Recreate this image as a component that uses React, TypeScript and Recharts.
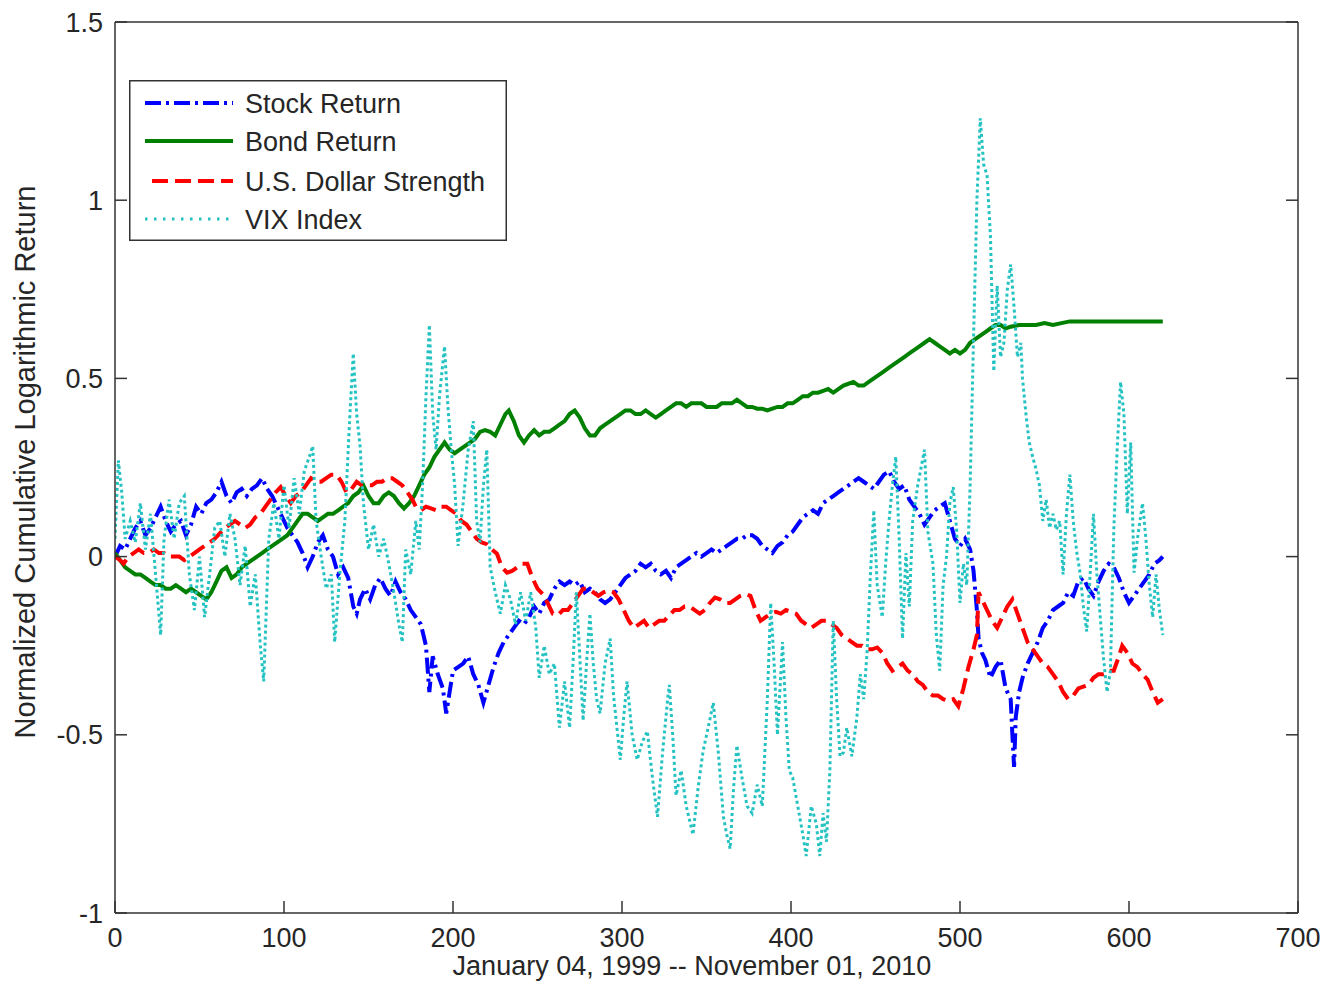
import { LineChart, Line, XAxis, YAxis, Legend } from 'recharts';

const FONT = '"Liberation Sans", Arial, Helvetica, sans-serif';
const TEXT = '#262626';
const AXIS = '#333333';

const xTicks = [0, 100, 200, 300, 400, 500, 600, 700];
const yTicks = [-1, -0.5, 0, 0.5, 1, 1.5];
const xTitle = 'January 04, 1999 -- November 01, 2010';
const yTitle = 'Normalized Cumulative Logarithmic Return';

// [trading week index, value]
const stockReturn: [number, number][] = [
  [0, 0.0], [3, 0.03], [6, 0.02], [9, 0.05], [12, 0.08], [15, 0.1], [18, 0.06], [21, 0.08],
  [24, 0.11], [27, 0.14], [30, 0.1], [33, 0.07], [36, 0.09], [39, 0.1], [42, 0.06], [45, 0.09],
  [48, 0.14], [51, 0.12], [54, 0.15], [57, 0.16], [60, 0.18], [63, 0.21], [66, 0.17], [69, 0.15],
  [72, 0.18], [75, 0.19], [78, 0.17], [81, 0.19], [84, 0.2], [87, 0.22], [90, 0.19], [93, 0.17],
  [96, 0.14], [99, 0.11], [102, 0.08], [105, 0.06], [108, 0.04], [111, 0.01], [114, -0.03], [117, 0.0],
  [120, 0.04], [123, 0.06], [126, 0.02], [129, 0.0], [132, -0.05], [135, -0.03], [138, -0.06], [141, -0.14],
  [143, -0.16], [145, -0.12], [148, -0.09], [151, -0.12], [154, -0.08], [157, -0.06], [160, -0.09], [163, -0.11],
  [166, -0.07], [169, -0.1], [172, -0.12], [175, -0.15], [178, -0.17], [181, -0.19], [184, -0.25], [186, -0.38],
  [188, -0.28], [191, -0.33], [194, -0.37], [196, -0.44], [198, -0.38], [200, -0.32], [203, -0.31], [206, -0.3],
  [209, -0.28], [212, -0.33], [215, -0.36], [218, -0.41], [221, -0.36], [224, -0.31], [227, -0.27], [230, -0.24],
  [233, -0.22], [236, -0.2], [239, -0.18], [242, -0.19], [245, -0.17], [248, -0.14], [251, -0.16], [254, -0.13],
  [257, -0.12], [260, -0.09], [263, -0.07], [266, -0.08], [269, -0.07], [272, -0.08], [275, -0.07], [278, -0.1],
  [281, -0.09], [284, -0.1], [287, -0.12], [290, -0.13], [293, -0.12], [296, -0.1], [299, -0.08], [302, -0.06],
  [305, -0.05], [308, -0.04], [311, -0.02], [314, -0.03], [317, -0.02], [320, -0.04], [323, -0.05], [326, -0.04],
  [329, -0.06], [332, -0.03], [335, -0.02], [338, -0.01], [341, 0.0], [344, 0.01], [347, 0.0], [350, 0.01],
  [353, 0.02], [356, 0.01], [359, 0.02], [362, 0.03], [365, 0.04], [368, 0.05], [371, 0.05], [374, 0.06],
  [377, 0.06], [380, 0.05], [383, 0.03], [386, 0.02], [389, 0.01], [392, 0.03], [395, 0.04], [398, 0.06],
  [401, 0.07], [404, 0.09], [407, 0.11], [410, 0.12], [413, 0.13], [416, 0.12], [419, 0.15], [422, 0.16],
  [425, 0.17], [428, 0.18], [431, 0.19], [434, 0.2], [437, 0.21], [440, 0.22], [443, 0.21], [446, 0.2],
  [449, 0.19], [452, 0.21], [455, 0.23], [458, 0.24], [461, 0.21], [464, 0.19], [467, 0.2], [470, 0.16],
  [473, 0.14], [476, 0.12], [479, 0.09], [482, 0.11], [485, 0.13], [488, 0.14], [491, 0.15], [494, 0.1],
  [497, 0.05], [500, 0.03], [503, 0.05], [506, 0.02], [508, -0.04], [510, -0.15], [511, -0.23], [513, -0.27],
  [515, -0.29], [518, -0.34], [521, -0.31], [524, -0.29], [527, -0.37], [530, -0.4], [531, -0.5], [532, -0.59],
  [533, -0.45], [535, -0.38], [537, -0.34], [540, -0.3], [543, -0.27], [546, -0.24], [549, -0.2], [552, -0.18],
  [555, -0.15], [558, -0.14], [561, -0.13], [564, -0.1], [567, -0.11], [570, -0.07], [573, -0.06], [576, -0.09],
  [579, -0.11], [582, -0.07], [585, -0.04], [588, -0.02], [591, -0.03], [594, -0.06], [597, -0.1], [600, -0.13],
  [603, -0.11], [606, -0.09], [609, -0.07], [612, -0.05], [615, -0.02], [618, -0.01], [620, 0.0],
];

const bondReturn: [number, number][] = [
  [0, 0.01], [3, -0.01], [6, -0.03], [9, -0.04], [12, -0.05], [15, -0.05], [18, -0.06], [21, -0.07],
  [24, -0.08], [27, -0.08], [30, -0.09], [33, -0.09], [36, -0.08], [39, -0.09], [42, -0.1], [45, -0.09],
  [48, -0.1], [51, -0.11], [54, -0.12], [57, -0.1], [60, -0.07], [63, -0.04], [66, -0.03], [69, -0.06],
  [72, -0.05], [75, -0.03], [78, -0.02], [81, -0.01], [84, 0.0], [87, 0.01], [90, 0.02], [93, 0.03],
  [96, 0.04], [99, 0.05], [102, 0.06], [105, 0.08], [108, 0.1], [111, 0.12], [114, 0.12], [117, 0.11],
  [120, 0.1], [123, 0.11], [126, 0.12], [129, 0.12], [132, 0.13], [135, 0.14], [138, 0.15], [141, 0.17],
  [144, 0.18], [147, 0.2], [150, 0.17], [153, 0.15], [156, 0.15], [159, 0.17], [162, 0.18], [165, 0.17],
  [168, 0.15], [171, 0.135], [174, 0.15], [177, 0.17], [180, 0.2], [183, 0.23], [186, 0.25], [189, 0.28],
  [192, 0.3], [195, 0.32], [198, 0.3], [201, 0.29], [204, 0.3], [207, 0.31], [210, 0.32], [213, 0.33],
  [216, 0.35], [219, 0.355], [222, 0.35], [225, 0.34], [228, 0.37], [231, 0.4], [233, 0.41], [236, 0.38],
  [239, 0.34], [242, 0.32], [245, 0.34], [248, 0.355], [251, 0.34], [254, 0.35], [257, 0.35], [260, 0.36],
  [263, 0.37], [266, 0.38], [269, 0.4], [272, 0.41], [275, 0.39], [278, 0.36], [281, 0.34], [284, 0.34],
  [287, 0.36], [290, 0.37], [293, 0.38], [296, 0.39], [299, 0.4], [302, 0.41], [305, 0.41], [308, 0.4],
  [311, 0.4], [314, 0.41], [317, 0.4], [320, 0.39], [323, 0.4], [326, 0.41], [329, 0.42], [332, 0.43],
  [335, 0.43], [338, 0.42], [341, 0.43], [344, 0.43], [347, 0.43], [350, 0.42], [353, 0.42], [356, 0.42],
  [359, 0.43], [362, 0.43], [365, 0.43], [368, 0.44], [371, 0.43], [374, 0.42], [377, 0.42], [380, 0.415],
  [383, 0.415], [386, 0.41], [389, 0.415], [392, 0.42], [395, 0.42], [398, 0.43], [401, 0.43], [404, 0.44],
  [407, 0.45], [410, 0.45], [413, 0.46], [416, 0.46], [419, 0.465], [422, 0.47], [425, 0.46], [428, 0.47],
  [431, 0.48], [434, 0.485], [437, 0.49], [440, 0.48], [443, 0.48], [446, 0.49], [449, 0.5], [452, 0.51],
  [455, 0.52], [458, 0.53], [461, 0.54], [464, 0.55], [467, 0.56], [470, 0.57], [473, 0.58], [476, 0.59],
  [479, 0.6], [482, 0.61], [485, 0.6], [488, 0.59], [491, 0.58], [494, 0.57], [497, 0.58], [500, 0.57],
  [503, 0.58], [506, 0.6], [509, 0.61], [512, 0.62], [515, 0.63], [518, 0.64], [521, 0.65], [524, 0.65],
  [527, 0.64], [530, 0.645], [535, 0.65], [540, 0.65], [545, 0.65], [550, 0.655], [555, 0.65], [560, 0.655],
  [565, 0.66], [570, 0.66], [580, 0.66], [590, 0.66], [600, 0.66], [610, 0.66], [620, 0.66],
];

const dollarStrength: [number, number][] = [
  [0, 0.0], [3, -0.01], [5, -0.02], [8, 0.0], [11, 0.01], [14, 0.02], [17, 0.01], [20, 0.01],
  [23, 0.02], [26, 0.01], [29, 0.01], [32, 0.0], [35, 0.0], [38, 0.0], [41, -0.01], [44, 0.0],
  [47, 0.01], [50, 0.02], [53, 0.03], [56, 0.04], [59, 0.05], [62, 0.065], [65, 0.08], [68, 0.09],
  [71, 0.1], [74, 0.09], [77, 0.08], [80, 0.09], [83, 0.11], [86, 0.12], [89, 0.14], [92, 0.16],
  [95, 0.18], [98, 0.195], [101, 0.17], [104, 0.15], [107, 0.17], [110, 0.18], [113, 0.2], [116, 0.22],
  [119, 0.21], [122, 0.21], [125, 0.22], [128, 0.23], [131, 0.23], [134, 0.21], [137, 0.18], [140, 0.19],
  [143, 0.21], [146, 0.2], [149, 0.2], [152, 0.2], [155, 0.21], [158, 0.21], [161, 0.22], [164, 0.22],
  [167, 0.21], [170, 0.2], [173, 0.18], [176, 0.16], [178, 0.14], [181, 0.13], [184, 0.14], [187, 0.135],
  [190, 0.13], [193, 0.14], [196, 0.14], [199, 0.13], [202, 0.12], [205, 0.1], [208, 0.09], [211, 0.07],
  [214, 0.05], [217, 0.04], [220, 0.035], [223, 0.02], [226, 0.008], [229, -0.03], [232, -0.045], [235, -0.04],
  [238, -0.03], [241, -0.02], [244, -0.02], [247, -0.06], [250, -0.09], [253, -0.105], [256, -0.13], [259, -0.16],
  [262, -0.165], [265, -0.15], [268, -0.15], [271, -0.13], [274, -0.11], [277, -0.09], [280, -0.09], [283, -0.1],
  [286, -0.11], [289, -0.1], [292, -0.095], [295, -0.1], [298, -0.12], [301, -0.15], [304, -0.18], [307, -0.2],
  [310, -0.19], [313, -0.18], [316, -0.2], [319, -0.19], [322, -0.18], [325, -0.18], [328, -0.165], [331, -0.15],
  [334, -0.15], [337, -0.14], [340, -0.14], [343, -0.15], [346, -0.16], [349, -0.15], [352, -0.13], [355, -0.115],
  [358, -0.12], [361, -0.13], [364, -0.13], [367, -0.12], [370, -0.11], [373, -0.105], [376, -0.11], [379, -0.15],
  [382, -0.18], [385, -0.17], [388, -0.16], [391, -0.155], [394, -0.16], [397, -0.15], [400, -0.155], [403, -0.16],
  [406, -0.18], [409, -0.19], [412, -0.2], [415, -0.19], [418, -0.18], [421, -0.18], [424, -0.19], [427, -0.2],
  [430, -0.22], [433, -0.23], [436, -0.24], [439, -0.25], [442, -0.25], [445, -0.26], [448, -0.26], [451, -0.255],
  [454, -0.27], [457, -0.3], [460, -0.32], [463, -0.31], [466, -0.3], [469, -0.32], [472, -0.33], [475, -0.35],
  [478, -0.36], [481, -0.38], [484, -0.39], [487, -0.39], [490, -0.4], [493, -0.405], [496, -0.4], [499, -0.42],
  [502, -0.37], [505, -0.31], [508, -0.26], [510, -0.22], [511, -0.1], [513, -0.12], [516, -0.15], [519, -0.18],
  [522, -0.2], [525, -0.17], [528, -0.14], [531, -0.12], [534, -0.16], [537, -0.2], [540, -0.24], [543, -0.26],
  [546, -0.28], [549, -0.3], [552, -0.31], [555, -0.33], [558, -0.35], [561, -0.38], [564, -0.4], [567, -0.39],
  [570, -0.37], [573, -0.365], [576, -0.36], [579, -0.34], [582, -0.33], [585, -0.33], [588, -0.32], [591, -0.32],
  [594, -0.28], [596, -0.25], [599, -0.27], [602, -0.3], [605, -0.31], [608, -0.33], [611, -0.345], [614, -0.38],
  [617, -0.41], [620, -0.4],
];

const vixIndex: [number, number][] = [
  [0, 0.05], [2, 0.27], [4, 0.18], [6, 0.05], [9, 0.1], [12, 0.04], [15, 0.15], [18, 0.02],
  [21, 0.12], [24, -0.05], [27, -0.22], [29, 0.05], [32, 0.16], [35, 0.05], [38, 0.15], [41, 0.17],
  [44, -0.05], [47, -0.15], [50, 0.0], [53, -0.17], [56, -0.05], [59, 0.08], [62, 0.1], [65, 0.0],
  [68, 0.12], [71, 0.05], [74, -0.08], [77, 0.03], [80, -0.14], [83, -0.05], [86, -0.25], [88, -0.35],
  [91, 0.05], [94, 0.15], [97, 0.05], [100, 0.2], [103, 0.08], [106, 0.22], [109, 0.12], [112, 0.24],
  [115, 0.28], [117, 0.31], [119, 0.1], [122, 0.0], [125, -0.09], [128, -0.05], [130, -0.24], [133, -0.05],
  [136, 0.1], [139, 0.4], [141, 0.57], [143, 0.4], [145, 0.31], [147, 0.15], [150, 0.02], [153, 0.09],
  [156, 0.0], [159, 0.05], [162, -0.02], [165, -0.1], [168, -0.19], [170, -0.24], [172, 0.02], [175, -0.05],
  [178, 0.1], [180, 0.02], [182, 0.2], [184, 0.45], [186, 0.65], [188, 0.4], [190, 0.3], [192, 0.45],
  [195, 0.59], [197, 0.42], [199, 0.3], [201, 0.2], [203, 0.03], [206, 0.15], [209, 0.3], [212, 0.38],
  [214, 0.1], [216, 0.04], [218, 0.2], [220, 0.3], [222, -0.03], [225, -0.1], [228, -0.16], [231, -0.08],
  [234, -0.12], [237, -0.19], [240, -0.1], [243, -0.18], [246, -0.1], [249, -0.2], [251, -0.34], [254, -0.25],
  [257, -0.33], [260, -0.3], [263, -0.48], [266, -0.35], [269, -0.48], [271, -0.3], [273, -0.1], [275, -0.28],
  [277, -0.46], [279, -0.3], [281, -0.16], [283, -0.3], [285, -0.4], [287, -0.44], [290, -0.3], [293, -0.23],
  [295, -0.39], [297, -0.48], [299, -0.57], [301, -0.45], [303, -0.35], [306, -0.5], [309, -0.57], [312, -0.52],
  [315, -0.49], [318, -0.62], [321, -0.73], [324, -0.55], [327, -0.4], [328, -0.36], [330, -0.5], [332, -0.67],
  [335, -0.6], [338, -0.7], [342, -0.78], [345, -0.65], [348, -0.545], [351, -0.48], [354, -0.41], [357, -0.55],
  [360, -0.73], [362, -0.78], [364, -0.82], [366, -0.65], [368, -0.53], [371, -0.62], [374, -0.7], [377, -0.72],
  [380, -0.64], [383, -0.7], [386, -0.4], [388, -0.13], [390, -0.3], [392, -0.5], [395, -0.24], [397, -0.45],
  [399, -0.6], [401, -0.62], [404, -0.7], [407, -0.78], [409, -0.84], [412, -0.7], [415, -0.75], [417, -0.84],
  [419, -0.72], [421, -0.8], [423, -0.6], [425, -0.18], [427, -0.4], [429, -0.56], [431, -0.55], [433, -0.48],
  [436, -0.56], [439, -0.45], [441, -0.33], [443, -0.4], [445, -0.27], [447, -0.05], [449, 0.13], [451, -0.08],
  [454, -0.17], [456, -0.02], [458, 0.1], [460, 0.2], [462, 0.28], [464, 0.05], [466, -0.23], [468, 0.01],
  [470, -0.14], [472, 0.1], [475, 0.2], [477, 0.25], [479, 0.3], [481, 0.07], [484, -0.02], [486, -0.22],
  [488, -0.32], [490, -0.08], [492, 0.0], [494, 0.15], [496, 0.195], [498, 0.075], [500, -0.13], [502, -0.02],
  [504, -0.08], [506, 0.2], [508, 0.61], [510, 1.0], [512, 1.23], [514, 1.1], [516, 1.07], [518, 0.9],
  [520, 0.52], [522, 0.76], [524, 0.56], [526, 0.6], [528, 0.75], [530, 0.82], [532, 0.7], [534, 0.56],
  [536, 0.6], [537, 0.5], [539, 0.4], [541, 0.32], [543, 0.28], [545, 0.245], [547, 0.2], [549, 0.1],
  [551, 0.16], [553, 0.08], [555, 0.12], [557, 0.075], [559, 0.1], [561, -0.05], [563, 0.12], [565, 0.23],
  [567, 0.1], [569, 0.015], [571, -0.045], [573, -0.14], [575, -0.21], [577, -0.05], [579, 0.12], [581, -0.05],
  [583, -0.17], [585, -0.29], [587, -0.38], [589, -0.32], [591, 0.075], [593, 0.3], [595, 0.49], [597, 0.4],
  [599, 0.12], [601, 0.32], [603, -0.045], [605, 0.05], [608, 0.15], [610, 0.05], [612, -0.08], [614, -0.17],
  [616, -0.05], [618, -0.15], [620, -0.22],
];

const series = [
  { name: 'Stock Return', points: stockReturn, color: '#0000ff', width: 4, dash: '16 5 3 5' },
  { name: 'Bond Return', points: bondReturn, color: '#008000', width: 4, dash: undefined },
  { name: 'U.S. Dollar Strength', points: dollarStrength, color: '#ff0000', width: 4, dash: '16 7' },
  { name: 'VIX Index', points: vixIndex, color: '#25c2c2', width: 3, dash: '3 3' },
];

const toRows = (pts: [number, number][]) => pts.map(([day, value]) => ({ day, value }));

function LegendBox() {
  const rowY = [23, 61, 101, 139];
  return (
    <svg width={378} height={161} style={{ display: 'block' }}>
      <rect x={0.75} y={0.75} width={376.5} height={159.5} fill="#fff" stroke={AXIS} strokeWidth={1.5} />
      {series.map((s, i) => (
        <g key={s.name}>
          <line
            x1={i === 2 ? 23 : 16}
            x2={104}
            y1={rowY[i]}
            y2={rowY[i]}
            stroke={s.color}
            strokeWidth={i === 3 ? 3 : 4}
            strokeDasharray={i === 3 ? '2.5 6.5' : s.dash}
          />
          <text x={116} y={rowY[i] + 9.5} fontSize={27} fontFamily={FONT} fill={TEXT}>
            {s.name}
          </text>
        </g>
      ))}
    </svg>
  );
}

const tickStyle = { fontSize: 27, fill: TEXT, fontFamily: FONT };
const frame = { stroke: AXIS, strokeWidth: 1.5 };
const noLabel = () => <g />;

export default function App() {
  return (
    <div style={{ position: 'absolute', left: 0, top: 0 }}>
      <LineChart width={1326} height={991} margin={{ top: 22, right: 28, bottom: 0, left: 0 }}>
        <XAxis
          dataKey="day"
          type="number"
          domain={[0, 700]}
          ticks={xTicks}
          allowDataOverflow
          height={78}
          tickLine={frame}
          tickSize={-12}
          tickMargin={27}
          axisLine={frame}
          tick={tickStyle}
          label={{
            content: () => (
              <text x={692} y={975} textAnchor="middle" fontSize={27} fontFamily={FONT} fill={TEXT}>
                {xTitle}
              </text>
            ),
          }}
        />
        <XAxis xAxisId="top" type="number" domain={[0, 700]} ticks={xTicks} orientation="top"
          allowDataOverflow mirror height={1} tick={noLabel} tickSize={12}
          axisLine={frame} tickLine={frame} />
        <YAxis
          type="number"
          domain={[-1, 1.5]}
          ticks={yTicks}
          allowDataOverflow
          width={115}
          tickLine={frame}
          tickSize={-12}
          tickMargin={24}
          axisLine={frame}
          tick={tickStyle}
          label={{
            content: () => (
              <text x={35} y={462} transform="rotate(-90, 35, 462)" textAnchor="middle"
                fontSize={29} fontFamily={FONT} fill={TEXT}>
                {yTitle}
              </text>
            ),
          }}
        />
        <YAxis yAxisId="right" type="number" domain={[-1, 1.5]} ticks={yTicks} orientation="right"
          allowDataOverflow mirror width={1} tick={noLabel} tickSize={12}
          axisLine={frame} tickLine={frame} />
        {series.map((s) => (
          <Line
            key={s.name}
            data={toRows(s.points)}
            dataKey="value"
            name={s.name}
            type="linear"
            stroke={s.color}
            strokeWidth={s.width}
            strokeDasharray={s.dash}
            dot={false}
            activeDot={false}
            isAnimationActive={false}
          />
        ))}
        <Legend
          layout="vertical"
          align="center"
          verticalAlign="middle"
          wrapperStyle={{ left: 129, top: 80, width: 378, height: 161 }}
          content={() => <LegendBox />}
        />
      </LineChart>
    </div>
  );
}
